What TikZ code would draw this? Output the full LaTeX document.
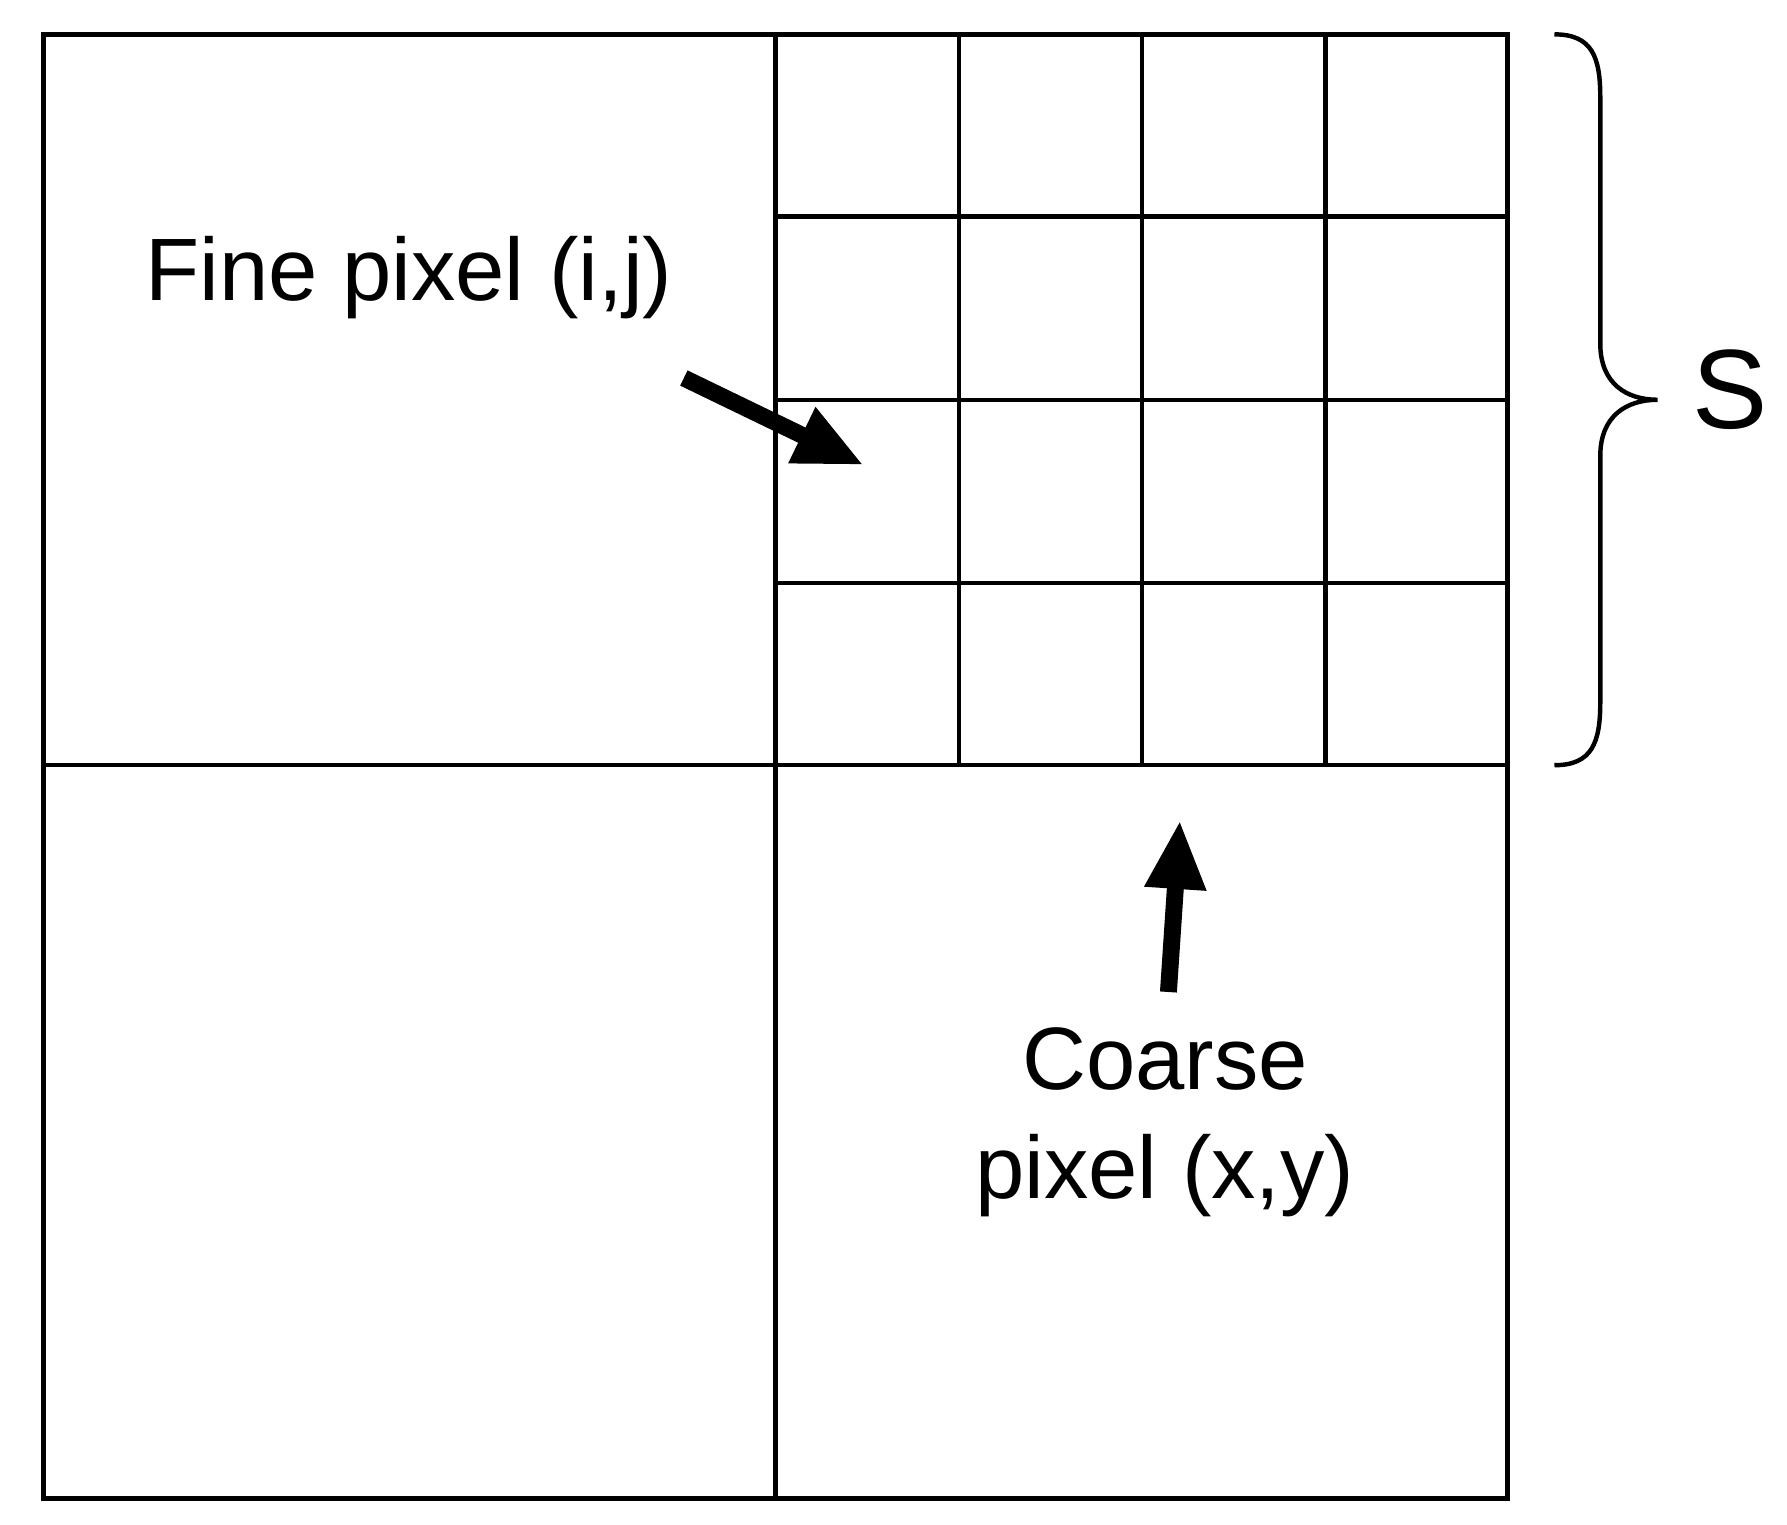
\documentclass[tikz,border=0pt]{standalone}
\usepackage{fontspec}
\setmainfont{Liberation Sans}
\usetikzlibrary{arrows.meta}
\begin{document}
\begin{tikzpicture}[x=0.01cm,y=-0.01cm,
  grid/.style={line width=1.1pt},
  bigarrow/.style={line width=4.2pt,-{Triangle[length=0.6cm,width=0.5cm]}},
  lbl/.style={font=\fontsize{22}{27}\selectfont,align=center,inner sep=0pt}]
\useasboundingbox (0,0) rectangle (1560,1331);
\draw[grid] (38,30) rectangle (1316,1308);
\draw[grid] (677,30) -- (677,1308);
\draw[grid] (38,668) -- (1316,668);
\foreach \x in {837,997,1157} \draw[grid] (\x,30) -- (\x,668);
\foreach \y in {189,349,509} \draw[grid] (677,\y) -- (1316,\y);
\draw[grid] (1357,30) .. controls (1390,30) and (1397,50) .. (1397,85) -- (1397,300)
  .. controls (1397,335) and (1420,349) .. (1447,349)
  .. controls (1420,349) and (1397,363) .. (1397,398) -- (1397,613)
  .. controls (1397,648) and (1390,668) .. (1357,668);
\node[lbl,font=\fontsize{28}{32}\selectfont] (s) at (1510,340) {S};
\node[lbl] (fine) at (357,242) {Fine pixel (i,j)};
\node[lbl] (coarse) at (1017,980) {Coarse\\[0pt]pixel (x,y)};
\coordinate (f1) at (597,330); \coordinate (f2) at (754,406);
\coordinate (c1) at (1020,866); \coordinate (c2) at (1030,716);
\draw[bigarrow] (f1) -- (f2);
\draw[bigarrow] (c1) -- (c2);
\end{tikzpicture}
\end{document}
